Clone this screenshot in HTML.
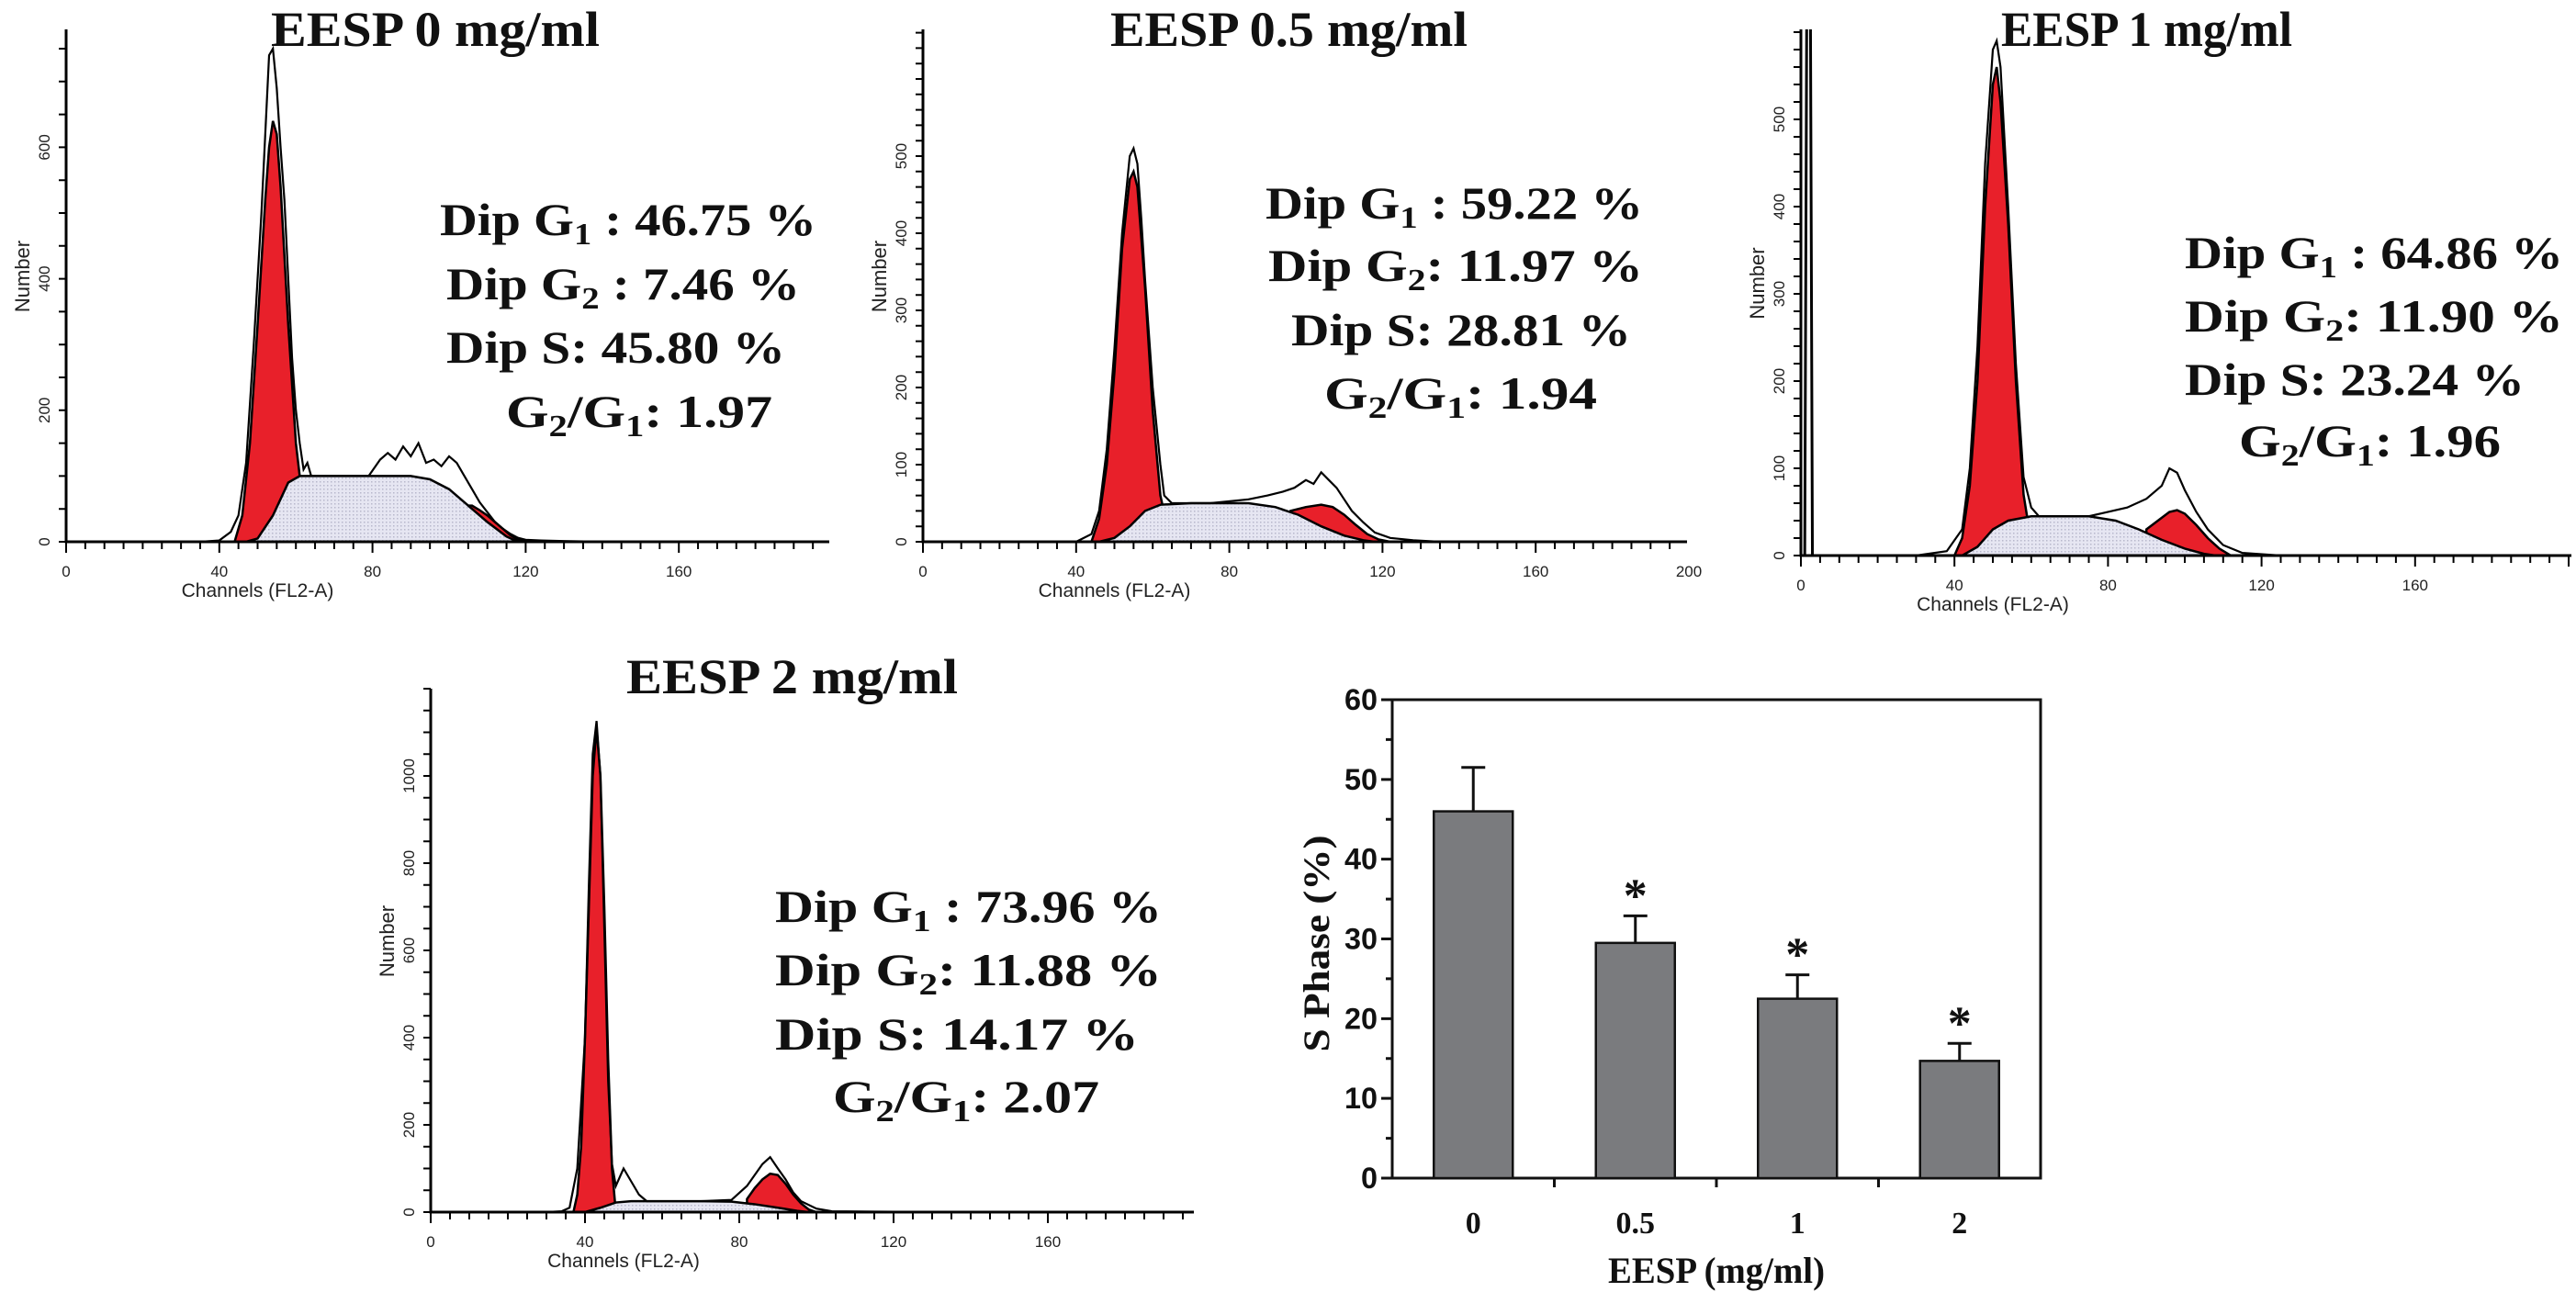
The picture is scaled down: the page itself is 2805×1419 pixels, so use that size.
<!DOCTYPE html>
<html><head><meta charset="utf-8"><style>
html,body{margin:0;padding:0;background:#fff;}
svg{display:block;}
</style></head><body>
<svg id="fig" width="2805" height="1419" viewBox="0 0 2805 1419" xmlns="http://www.w3.org/2000/svg">
<defs>
<pattern id="dots" width="4" height="4" patternUnits="userSpaceOnUse"><rect width="4" height="4" fill="#e6e6f2"/><rect width="1.5" height="1.5" fill="#b8b8cc"/></pattern>
</defs>
<g id="panels"></g>
<g id="bar"></g>
</svg>
<script>
// ---- Histogram data (channel, count) ----
const p1G1=[[44,0],[46,40],[48,150],[50,330],[52,520],[53,600],[54,640],[55,620],[56,540],[58,330],[60,150],[62,50],[64,10],[66,0]];
const p1S=[[47,0],[50,5],[54,40],[58,90],[61,100],[80,100],[90,100],[95,95],[100,80],[105,55],[110,30],[115,8],[118,0]];
const p1G2=[[104,55],[106,55],[108,48],[110,40],[112,30],[114,20],[116,10],[118,3],[120,0]];
const p1Data=[[35,0],[40,2],[43,15],[45,40],[47,120],[49,300],[51,500],[53,740],[54,750],[55,690],[56,600],[57,520],[58,400],[59,280],[60,200],[61,150],[62,110],[63,120],[64,100],[70,100],[79,100],[82,125],[84,135],[86,125],[88,145],[90,130],[92,150],[94,120],[96,125],[98,115],[100,130],[102,120],[104,100],[106,80],[108,60],[110,45],[112,30],[114,20],[116,12],[118,6],[120,3],[124,2],[130,1],[140,0],[150,0]];

const p2G1=[[44,0],[46,30],[48,100],[50,220],[52,380],[54,470],[55,480],[56,460],[58,330],[60,170],[62,60],[64,15],[66,0]];
const p2S=[[46,0],[50,5],[54,20],[58,40],[62,48],[70,50],[85,50],[92,45],[98,35],[104,20],[110,8],[115,2],[118,0]];
const p2G2=[[96,40],[100,45],[104,48],[107,45],[110,35],[113,22],[116,10],[119,3],[122,0]];
const p2Data=[[40,0],[44,10],[46,40],[48,120],[50,250],[52,400],[54,500],[55,510],[56,490],[57,420],[58,340],[60,200],[62,100],[63,60],[65,50],[75,50],[85,55],[90,60],[94,65],[97,70],[100,80],[102,75],[104,90],[106,80],[108,70],[110,55],[112,40],[115,25],[118,12],[122,5],[128,2],[135,0]];

const p3G1=[[40,0],[42,20],[44,80],[46,200],[48,400],[50,540],[51,560],[52,520],[54,380],[56,200],[58,70],[60,15],[62,0]];
const p3S=[[42,0],[46,10],[50,30],[54,40],[60,45],[75,45],[82,40],[88,30],[94,18],[100,8],[105,2],[108,0]];
const p3G2=[[90,30],[93,40],[96,50],[98,52],[100,48],[103,35],[106,20],[109,8],[112,0]];
const p3Data=[[30,0],[38,5],[42,30],[44,100],[46,240],[48,450],[50,580],[51,590],[52,560],[53,480],[54,400],[56,220],[58,90],[60,55],[62,45],[75,45],[85,55],[90,65],[94,80],[96,100],[98,95],[100,75],[103,50],[106,30],[110,12],[115,3],[125,0]];

const p4G1=[[37,0],[38,40],[39,150],[40,400],[41,700],[42,1000],[43,1110],[44,1000],[45,700],[46,350],[47,100],[48,0]];
const p4S=[[40,0],[44,10],[48,22],[52,25],[70,25],[78,24],[84,18],[90,10],[95,3],[98,0]];
const p4G2=[[82,30],[84,55],[86,75],[88,88],[90,85],[92,65],[94,40],[96,20],[98,6],[100,0]];
const p4Data=[[30,0],[34,2],[36,10],[38,100],[40,400],[41,750],[42,1050],[43,1126],[44,1000],[45,650],[46,300],[47,110],[48,60],[50,100],[52,70],[54,40],[56,25],[70,25],[78,28],[82,60],[84,85],[86,110],[88,126],[90,100],[92,75],[94,45],[96,25],[100,8],[104,2],[115,1],[140,0]];

const p1XTicks=[0,40,80,120,160], p1YTicks=[0,200,400,600];
const p2XTicks=[0,40,80,120,160,200], p2YTicks=[0,100,200,300,400,500];
const p3XTicks=[0,40,80,120,160], p3YTicks=[0,100,200,300,400,500];
const p4XTicks=[0,40,80,120,160], p4YTicks=[0,200,400,600,800,1000];

const p1Stats=["Dip G|1| : 46.75 %","Dip G|2| : 7.46 %","Dip S: 45.80 %","G|2|/G|1|: 1.97"];
const p2Stats=["Dip G|1| : 59.22 %","Dip  G|2|: 11.97 %","Dip S: 28.81 %","G|2|/G|1|: 1.94"];
const p3Stats=["Dip G|1| : 64.86 %","Dip  G|2|: 11.90 %","Dip S: 23.24 %","G|2|/G|1|: 1.96"];
const p4Stats=["Dip G|1| : 73.96 %","Dip G|2|: 11.88 %","Dip S: 14.17 %","G|2|/G|1|: 2.07"];

// ---- Bar chart data ----
const barCats=["0","0.5","1","2"];
const barVals=[46.0,29.5,22.5,14.7];
const barErr=[5.5,3.4,3.0,2.2];
const barSig=[false,true,true,true];
const barYTicks=[0,10,20,30,40,50,60];

const NS="http://www.w3.org/2000/svg";
function el(tag,attrs,parent,text){const e=document.createElementNS(NS,tag);for(const k in attrs)e.setAttribute(k,attrs[k]);if(text!==undefined)e.textContent=text;parent.appendChild(e);return e;}

const panels=[
 {id:"p1",ox:72,base:590,kx:4.17,ky:0.716,top:32,xEnd:903,yMinorStep:50,G1:p1G1,S:p1S,G2:p1G2,D:p1Data,xt:p1XTicks,yt:p1YTicks,
  title:"EESP 0 mg/ml",tx:295,tw:358,ty:50,stats:p1Stats,sx:[479,486,486,551],sy:[256,326,395,465],sw:[410,385,369,290],spike:false},
 {id:"p2",ox:1005,base:590,kx:4.17,ky:0.84,top:32,xEnd:1837,yMinorStep:20,G1:p2G1,S:p2S,G2:p2G2,D:p2Data,xt:p2XTicks,yt:p2YTicks,
  title:"EESP 0.5 mg/ml",tx:1209,tw:389,ty:50,stats:p2Stats,sx:[1378,1381,1406,1442],sy:[238,306,376,445],sw:[411,408,370,297],spike:false},
 {id:"p3",ox:1961,base:605,kx:4.18,ky:0.95,top:32,xEnd:2800,yMinorStep:20,G1:p3G1,S:p3S,G2:p3G2,D:p3Data,xt:p3XTicks,yt:p3YTicks,
  title:"EESP 1 mg/ml",tx:2179,tw:317,ty:50,stats:p3Stats,sx:[2379,2379,2379,2438],sy:[292,361,430,497],sw:[412,412,370,285],spike:true},
 {id:"p4",ox:469,base:1320,kx:4.2,ky:0.475,top:750,xEnd:1300,yMinorStep:50,G1:p4G1,S:p4S,G2:p4G2,D:p4Data,xt:p4XTicks,yt:p4YTicks,
  title:"EESP 2 mg/ml",tx:682,tw:361,ty:755,stats:p4Stats,sx:[844,844,844,907],sy:[1004,1073,1143,1211],sw:[421,421,396,290],spike:false}
];

const root=document.getElementById('panels');
panels.forEach(p=>{
  const g=el('g',{},root);
  
  
  const X=c=>p.ox+c*p.kx, Y=v=>p.base-v*p.ky;
  const poly=(pts)=>{let s='M'+X(pts[0][0])+','+p.base;pts.forEach(q=>s+=' L'+X(q[0])+','+Y(q[1]));s+=' L'+X(pts[pts.length-1][0])+','+p.base+' Z';return s;};
  const line=(pts)=>pts.map((q,i)=>(i?'L':'M')+X(q[0])+','+Y(q[1])).join(' ');
  let e;
  e=el('path',{d:poly(p.G1),fill:'#e8202a',stroke:'#000','stroke-width':2.5},g);
  
  
  e=el('path',{d:poly(p.G2),fill:'#e8202a',stroke:'#000','stroke-width':2.5},g);
  
  
  e=el('path',{d:poly(p.S),fill:'url(#dots)',stroke:'#000','stroke-width':2.5},g);
  
  
  e=el('path',{d:line(p.D),fill:'none',stroke:'#000','stroke-width':2.2},g);
  
  
  if(p.spike){
    e=el('path',{d:`M${X(1)},${p.base} L${X(1.5)},${p.top} M${X(2.5)},${p.top} L${X(3)},${p.base}`,fill:'none',stroke:'#000','stroke-width':3},g);
    
    
  }
  e=el('path',{d:`M${p.ox},${p.top} L${p.ox},${p.base} L${p.xEnd},${p.base}`,fill:'none',stroke:'#000','stroke-width':3},g);
  
  
  let t='';
  for(let c=0;X(c)<=p.xEnd;c+=5){const len=(c%40===0)?12:8;t+=`M${X(c)},${p.base} L${X(c)},${p.base+len} `;}
  for(let v=0;Y(v)>=p.top;v+=p.yMinorStep){t+=`M${p.ox},${Y(v)} L${p.ox-8},${Y(v)} `;}
  el('path',{d:t,stroke:'#000','stroke-width':2,fill:'none'},g);
  p.xt.forEach(c=>{const tx=el('text',{x:X(c),y:p.base+38,'text-anchor':'middle','font-family':'Liberation Sans, sans-serif','font-size':17,fill:'#222'},g,String(c));
    
    });
  p.yt.forEach(v=>{const tx=el('text',{x:0,y:0,transform:`translate(${p.ox-18},${Y(v)}) rotate(-90)`,'text-anchor':'middle','font-family':'Liberation Sans, sans-serif','font-size':17,fill:'#222'},g,String(v));
    
    });
  e=el('text',{x:0,y:0,transform:`translate(${p.ox-40},${(p.top+p.base)/2-10}) rotate(-90)`,'text-anchor':'middle','font-family':'Liberation Sans, sans-serif','font-size':22,fill:'#222'},g,'Number');
  
  
  e=el('text',{x:X(50),y:p.base+60,'text-anchor':'middle','font-family':'Liberation Sans, sans-serif','font-size':21,fill:'#222'},g,'Channels (FL2-A)');
  
  
  e=el('text',{x:p.tx,y:p.ty,textLength:p.tw,lengthAdjust:'spacingAndGlyphs','font-family':'Liberation Serif, serif','font-weight':'bold','font-size':54,fill:'#111'},g,p.title);
  
  
  p.stats.forEach((s,i)=>{
    const tx=el('text',{x:p.sx[i],y:p.sy[i],textLength:p.sw[i],lengthAdjust:'spacingAndGlyphs','font-family':'Liberation Serif, serif','font-weight':'bold','font-size':50,fill:'#111','xml:space':'preserve'},g);
    
    
    s.split('|').forEach((part,j)=>{
      if(j%2===1){el('tspan',{'font-size':34,dy:10},tx,part);}
      else{el('tspan',j>0?{dy:-10}:{},tx,part);}
    });
  });
});

// ---- Bar chart ----
const bg=document.getElementById('bar');


const L=1516,R=2222,T=762,B=1283,yMax=60;
const by=v=>B-(v/yMax)*(B-T);
const slot=(R-L)/barCats.length;
const bx=i=>L+slot*(i+0.5);
let e=el('rect',{x:L,y:T,width:R-L,height:B-T,fill:'none',stroke:'#111','stroke-width':3},bg);


let tk='';
for(let v=0;v<=60;v+=5){tk+=`M${L},${by(v)} L${L-(v%10===0?12:7)},${by(v)} `;}
for(let i=1;i<barCats.length;i++){const x=L+slot*i;tk+=`M${x},${B} L${x},${B+10} `;}
el('path',{d:tk,stroke:'#111','stroke-width':3,fill:'none'},bg);
barYTicks.forEach(v=>{const t=el('text',{x:L-16,y:by(v)+11,'text-anchor':'end','font-family':'Liberation Sans, sans-serif','font-weight':'bold','font-size':32,fill:'#111',textLength:v===0?18:36,lengthAdjust:'spacingAndGlyphs'},bg,String(v));
  
  });
barCats.forEach((c,i)=>{
  const w=86,x=bx(i);
  const r=el('rect',{x:x-w/2,y:by(barVals[i]),width:w,height:B-by(barVals[i]),fill:'#7a7b7e',stroke:'#111','stroke-width':2.5},bg);
  
  
  const top=by(barVals[i]+barErr[i]);
  const eb=el('path',{d:`M${x},${by(barVals[i])} L${x},${top} M${x-13},${top} L${x+13},${top}`,stroke:'#111','stroke-width':3,fill:'none'},bg);
  
  
  if(barSig[i]){const s=el('text',{x:x,y:top-5,'text-anchor':'middle','font-family':'Liberation Serif, serif','font-weight':'bold','font-size':52,fill:'#111'},bg,'*');
    
    }
  const t=el('text',{x:x,y:B+60,'text-anchor':'middle','font-family':'Liberation Serif, serif','font-weight':'bold','font-size':34,fill:'#111'},bg,c);
  
  
});
e=el('text',{x:(L+R)/2,y:B+114,'text-anchor':'middle','font-family':'Liberation Serif, serif','font-weight':'bold','font-size':40,fill:'#111',textLength:236,lengthAdjust:'spacingAndGlyphs'},bg,'EESP (mg/ml)');


e=el('text',{x:0,y:0,transform:`translate(${1447},${(T+B)/2+5}) rotate(-90)`,'text-anchor':'middle','font-family':'Liberation Serif, serif','font-weight':'bold','font-size':40,fill:'#111',textLength:236,lengthAdjust:'spacingAndGlyphs'},bg,'S Phase (%)');


</script>
</body></html>
